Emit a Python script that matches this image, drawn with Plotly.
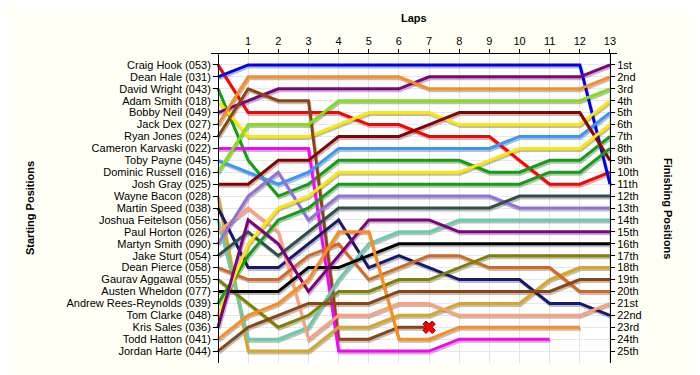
import plotly.graph_objects as go

laps = list(range(14))
lap_labels = [str(i) for i in range(1, 14)]

drivers = ["Craig Hook (053)", "Dean Hale (031)", "David Wright (043)", "Adam Smith (018)",
           "Bobby Neil (049)", "Jack Dex (027)", "Ryan Jones (024)", "Cameron Karvaski (022)",
           "Toby Payne (045)", "Dominic Russell (016)", "Josh Gray (025)", "Wayne Bacon (028)",
           "Martin Speed (038)", "Joshua Feitelson (056)", "Paul Horton (026)", "Martyn Smith (090)",
           "Jake Sturt (054)", "Dean Pierce (058)", "Gaurav Aggawal (055)", "Austen Wheldon (077)",
           "Andrew Rees-Reynolds (039)", "Tom Clarke (048)", "Kris Sales (036)", "Todd Hatton (041)",
           "Jordan Harte (044)"]

finish_labels = ["1st", "2nd", "3rd"] + [f"{i}th" for i in range(4, 21)] + ["21st", "22nd", "23rd", "24th", "25th"]

pos_craig = [1, 5, 5, 5, 5, 6, 6, 7, 7, 7, 9, 11, 11, 10]
pos_dean_h = [2, 1, 1, 1, 1, 1, 1, 1, 1, 1, 1, 1, 1, 11]
pos_david = [3, 9, 12, 11, 9, 9, 9, 9, 9, 10, 10, 9, 9, 7]
pos_adam = [4, 7, 7, 7, 6, 5, 5, 5, 6, 6, 6, 6, 6, 4]
pos_bobby = [5, 4, 3, 3, 3, 3, 3, 2, 2, 2, 2, 2, 2, 1]
pos_jack = [6, 2, 2, 2, 2, 2, 2, 3, 3, 3, 3, 3, 3, 2]
pos_ryan = [7, 3, 4, 4, 24, 24, 23, 23]
pos_cameron = [8, 8, 8, 8, 25, 25, 25, 25, 24, 24, 24, 24]
pos_toby = [9, 10, 11, 10, 8, 8, 8, 8, 8, 8, 7, 7, 7, 5]
pos_dominic = [10, 6, 6, 6, 4, 4, 4, 4, 4, 4, 4, 4, 4, 3]
pos_josh = [11, 11, 9, 9, 7, 7, 7, 6, 5, 5, 5, 5, 5, 9]
pos_wayne = [12, 25, 25, 25, 23, 23, 22, 22, 21, 21, 21, 19, 18, 18]
pos_martin = [13, 18, 18, 16, 14, 18, 17, 18, 19, 19, 19, 21, 21, 22]
pos_joshua = [14, 24, 24, 23, 19, 16, 15, 15, 14, 14, 14, 14, 14, 14]
pos_paul = [15, 13, 15, 24, 22, 22, 21, 21, 22, 22, 22, 22, 22, 21]
pos_martyn = [16, 12, 10, 14, 12, 12, 12, 12, 12, 12, 13, 13, 13, 13]
pos_jake = [17, 15, 17, 15, 13, 13, 13, 13, 13, 13, 12, 12, 12, 12]
pos_dean_p = [18, 19, 19, 17, 16, 19, 18, 17, 17, 18, 18, 18, 20, 20]
pos_gaurav = [19, 21, 23, 22, 20, 20, 19, 19, 18, 17, 17, 17, 17, 17]
pos_austen = [20, 20, 20, 18, 18, 17, 16, 16, 16, 16, 16, 16, 16, 16]
pos_andrew = [21, 17, 14, 13, 11, 11, 11, 11, 11, 11, 11, 10, 10, 8]
pos_tom = [22, 16, 13, 12, 10, 10, 10, 10, 10, 9, 8, 8, 8, 6]
pos_kris = [23, 14, 16, 20, 17, 14, 14, 14, 15, 15, 15, 15, 15, 15]
pos_todd = [24, 22, 21, 19, 15, 15, 24, 24, 23, 23, 23, 23, 23]
pos_jordan = [25, 23, 22, 21, 21, 21, 20, 20, 20, 20, 20, 20, 19, 19]

positions = [pos_craig, pos_dean_h, pos_david, pos_adam, pos_bobby, pos_jack, pos_ryan,
             pos_cameron, pos_toby, pos_dominic, pos_josh, pos_wayne, pos_martin, pos_joshua,
             pos_paul, pos_martyn, pos_jake, pos_dean_p, pos_gaurav, pos_austen, pos_andrew,
             pos_tom, pos_kris, pos_todd, pos_jordan]

colors = ["#FF0000", "#0000F0", "#10A010", "#FFE800", "#800080", "#FF8C1A", "#8B4513",
          "#FF00FF", "#3399FF", "#80E010", "#8B0000", "#DAA520", "#191970", "#66CDAA",
          "#FFA07A", "#9370DB", "#2F4F4F", "#D2691E", "#808000", "#000000", "#10A010",
          "#FFE800", "#800080", "#FF8C1A", "#8B4513"]

# retirement marker (driver index 6 crashes on lap 7)
crash_driver = 6

# --- geometry (page has an 8px body margin, so the figure is offset by 8px) ---
OFF = 8
W, H = 700 - OFF, 375 - OFF
ml, mt = 211 - OFF, 53 - OFF
mr = W - (617 - OFF)
mb = H - (363 - OFF)
pw = W - ml - mr
ph = H - mt - mb
xr = [-0.233, 13.233]
yr = [26, 0]
ppx = pw / (xr[1] - xr[0])
ppy = ph / (yr[0] - yr[1])
sdx, sdy = 1.0, 2.0  # shadow offset in px

font = "Arial, Liberation Sans, sans-serif"
fs = 11
fig = go.Figure()

# shadows on base axes
for pos in positions:
    fig.add_trace(go.Scatter(x=laps[:len(pos)], y=pos, mode="lines",
                             line=dict(color="rgba(90,90,90,0.40)", width=3),
                             xaxis="x", yaxis="y", hoverinfo="skip", showlegend=False))

for name, pos, col in zip(drivers, positions, colors):
    fig.add_trace(go.Scatter(x=laps[:len(pos)], y=pos, mode="lines", name=name,
                             line=dict(color=col, width=3),
                             xaxis="x2", yaxis="y2", showlegend=False))

cp = positions[crash_driver]
fig.add_trace(go.Scatter(x=[laps[len(cp) - 1]], y=[cp[-1]], mode="markers",
                         marker=dict(symbol="x", size=11, color="#FF0000",
                                     line=dict(color="#800000", width=1)),
                         xaxis="x2", yaxis="y2", hoverinfo="skip", showlegend=False))

# invisible trace to register the right-hand axis
fig.add_trace(go.Scatter(x=[laps[-1]] * 25, y=list(range(1, 26)), mode="markers",
                         marker=dict(opacity=0), xaxis="x2", yaxis="y3",
                         hoverinfo="skip", showlegend=False))

fig.update_layout(
    width=W, height=H,
    margin=dict(l=ml, r=mr, t=mt, b=mb, autoexpand=False),
    paper_bgcolor="#FFFFF5",
    plot_bgcolor="#FFFFFF",
    font=dict(family=font, size=fs, color="#000000"),
    xaxis=dict(range=[xr[0] - sdx / ppx, xr[1] - sdx / ppx], visible=False, domain=[0, 1]),
    yaxis=dict(range=[yr[0] - sdy / ppy, yr[1] - sdy / ppy], visible=False, domain=[0, 1]),
    xaxis2=dict(overlaying="x", side="top", anchor="free", position=1,
                range=xr, tickmode="array", tickvals=laps[1:], ticktext=lap_labels,
                showline=True, linecolor="#000000", linewidth=1,
                ticks="outside", ticklen=4, tickcolor="#000000",
                showgrid=True, gridcolor="#E4E4E4", gridwidth=1, zeroline=False,
                tickfont=dict(size=fs)),
    yaxis2=dict(overlaying="y", side="left", anchor="free",
                position=(0 - xr[0]) / (xr[1] - xr[0]),
                range=yr, tickmode="array", tickvals=list(range(1, 26)), ticktext=drivers,
                showline=True, linecolor="#000000", linewidth=1,
                ticks="outside", ticklen=5, tickcolor="#000000",
                showgrid=True, gridcolor="#E8E8E8", gridwidth=1, zeroline=False,
                tickfont=dict(size=fs)),
    yaxis3=dict(overlaying="y", side="right", anchor="free",
                position=(13 - xr[0]) / (xr[1] - xr[0]),
                range=yr, tickmode="array", tickvals=list(range(1, 26)), ticktext=finish_labels,
                showline=True, linecolor="#000000", linewidth=1,
                ticks="outside", ticklen=4, tickcolor="#000000",
                showgrid=False, zeroline=False, tickfont=dict(size=fs)),
    annotations=[
        dict(text="<b>Laps</b>", xref="paper", yref="paper", x=0.5, y=1 + (53 - 18) / ph,
             showarrow=False, xanchor="center", yanchor="middle", font=dict(size=fs)),
        dict(text="<b>Starting Positions</b>", xref="paper", yref="paper",
             x=(30 - 211) / pw, y=0.5, textangle=-90, showarrow=False,
             xanchor="center", yanchor="middle", font=dict(size=fs)),
        dict(text="<b>Finishing Positions</b>", xref="paper", yref="paper",
             x=(668 - 211) / pw, y=0.5, textangle=90, showarrow=False,
             xanchor="center", yanchor="middle", font=dict(size=fs)),
    ],
)

fig.write_html("out.html")
